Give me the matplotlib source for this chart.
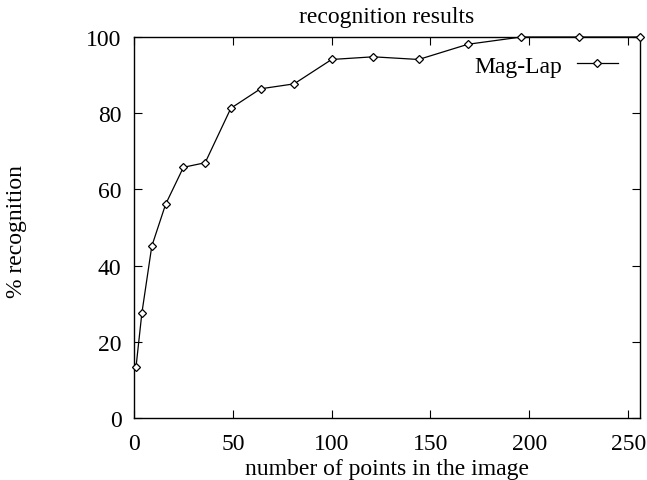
import matplotlib
matplotlib.use("Agg")
import matplotlib.pyplot as plt

points = [1, 4, 9, 16, 25, 36, 49, 64, 81, 100, 121, 144, 169, 196, 225, 256]
recognition = [13.3, 27.6, 45.1, 56.1, 65.8, 67.0, 81.3, 86.4, 87.7, 94.1, 94.8, 94.1, 98.1, 100, 100, 100]
series_label = "Mag-Lap"
xticks = [0, 50, 100, 150, 200, 250]
yticks = [0, 20, 40, 60, 80, 100]

plt.rcParams['font.family'] = ['Liberation Serif', 'DejaVu Serif']

FS = 17
fig = plt.figure(figsize=(6.47, 4.81), dpi=100)
ax = fig.add_axes([134/647, 1 - 419/481, (640-134)/647, (419-38)/481])

ax.plot(points, recognition, color='black', linewidth=0.9, marker='D', markersize=4.5,
        markerfacecolor='white', markeredgecolor='black', markeredgewidth=0.9,
        label=series_label, clip_on=False, zorder=3)

ax.set_xlim(0, 256)
ax.set_ylim(0, 100)
ax.set_xticks(xticks)
ax.set_yticks(yticks)
ax.tick_params(direction='in', length=6, width=0.8, top=True, right=True,
               labelsize=FS)
ax.tick_params(axis='x', pad=11)
ax.tick_params(axis='y', pad=9)
for s in ax.spines.values():
    s.set_linewidth(1.0)

ax.set_title("recognition results", fontsize=FS, pad=11)
ax.set_xlabel("number of points in the image", fontsize=FS, labelpad=3)
fig.text(17/647, 1 - 232/481, "% recognition", rotation=90, fontsize=FS,
         ha='center', va='center')

leg = ax.legend(loc='center right', bbox_to_anchor=(0.9565, 0.924), frameon=False,
                fontsize=FS, handlelength=1.74, markerfirst=False,
                handletextpad=0.63, borderpad=0, borderaxespad=0)

fig.savefig("out.png", dpi=100)
